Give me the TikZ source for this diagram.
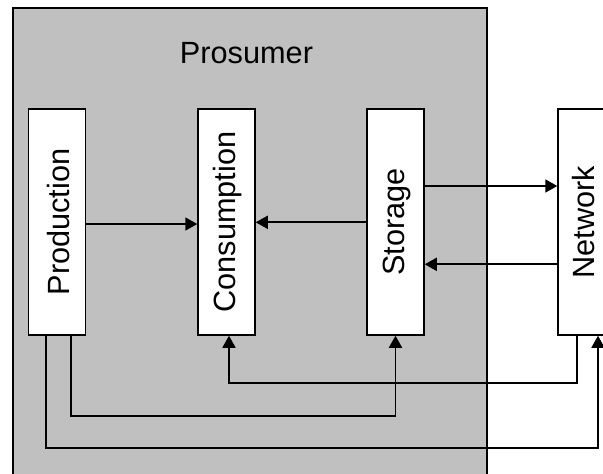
\documentclass[tikz,border=0pt]{standalone}
\usepackage{fontspec}
\setmainfont{Liberation Sans}
\usetikzlibrary{arrows.meta}
\definecolor{prosgray}{RGB}{192,192,192}
\tikzset{
  blockbox/.style={draw=black, fill=white, line width=1.5pt, minimum width=57pt, minimum height=226pt, inner sep=0pt},
  blocktext/.style={rotate=90, font=\fontsize{30.7}{36}\selectfont, inner sep=0pt},
  flow/.style={line width=1.8pt, -{Triangle[length=12pt,width=13pt]}},
}
\begin{document}
\begin{tikzpicture}[x=1pt,y=-1pt]
\useasboundingbox (0,0) rectangle (603,474);
\clip (0,0) rectangle (603,474);
\fill[white] (0,0) rectangle (603,474);
\node[draw=black, fill=prosgray, line width=1.5pt, minimum width=474pt, minimum height=480pt, inner sep=0pt, anchor=north west] (pros) at (12,7) {};
\node[font=\fontsize{30.7}{36}\selectfont, anchor=base, inner sep=0pt] (prostext) at (246.5,63.3) {Prosumer};

\node[blockbox] (prod) at (57,222) {};
\node[blockbox] (cons) at (226.5,222) {};
\node[blockbox] (stor) at (395.5,222) {};
\node[blockbox] (net) at (586.5,222) {};

\node[blocktext] (prodtext) at (58.5,222) {Production};
\node[blocktext] (constext) at (228,222) {Consumption};
\node[blocktext] (stortext) at (397,222) {Storage};
\node[blocktext] (nettext) at (584,222) {Network};

\coordinate (netA) at ([xshift=-9.5pt]net.south);
\coordinate (netB) at ([xshift=11.5pt]net.south);
\coordinate (prodA) at ([xshift=14pt]prod.south);
\coordinate (prodB) at ([xshift=-11pt]prod.south);
\coordinate (consA) at ([xshift=2.5pt]cons.south);

\draw[flow] (prod.east |- 0,224) -- (cons.west |- 0,224);
\draw[flow] (stor.west |- 0,222.3) -- (cons.east |- 0,222.3);
\draw[flow] (stor.east |- 0,186) -- (net.west |- 0,186);
\draw[flow] (net.west |- 0,264.3) -- (stor.east |- 0,264.3);

\draw[flow] (netA) -- (netA |- 0,382.7) -| (consA);
\draw[flow] (prodA) -- (prodA |- 0,416) -| (stor.south);
\draw[flow] (prodB) -- (prodB |- 0,447.7) -| (netB);
\end{tikzpicture}
\end{document}
